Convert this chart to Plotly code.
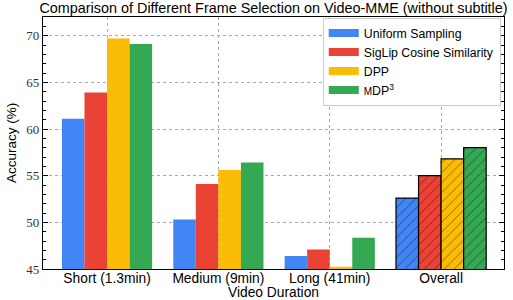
import plotly.graph_objects as go

categories = ["Short (1.3min)", "Medium (9min)", "Long (41min)", "Overall"]
series_names = ["Uniform Sampling", "SigLip Cosine Similarity", "DPP",
                "<span style='font-size:10px'>M</span>DP<sup>3</sup>"]
uniform = [61.1, 50.3, 46.4, 52.6]
siglip = [63.9, 54.1, 47.1, 55.0]
dpp = [69.7, 55.6, 45.25, 56.8]
mdp3 = [69.1, 56.4, 48.35, 58.0]
colors = ["#4285F4", "#EA4335", "#FBBC05", "#34A853"]
y_ticks = [45, 50, 55, 60, 65, 70]

fig = go.Figure()
all_vals = [uniform, siglip, dpp, mdp3]
for name, vals, col in zip(series_names, all_vals, colors):
    shapes = ["/" if c == "Overall" else "" for c in categories]
    lcols = ["black" if c == "Overall" else "rgba(0,0,0,0)" for c in categories]
    lw = [1.2 if c == "Overall" else 0 for c in categories]
    fig.add_trace(go.Bar(
        x=categories, y=vals, name=name, showlegend=False,
        marker=dict(color=col, line=dict(color=lcols, width=lw),
                    pattern=dict(shape=shapes, fgcolor="black", bgcolor=col,
                                 fillmode="overlay", size=7, solidity=0.12)),
    ))
    fig.add_trace(go.Scatter(
        x=[None], y=[None], mode="lines", name=name,
        line=dict(color=col, width=8), showlegend=True,
    ))

fig.update_layout(
    width=513, height=300,
    margin=dict(l=43, r=9, t=17, b=31, autoexpand=False),
    plot_bgcolor="white", paper_bgcolor="white",
    barmode="group", bargap=0.19, bargroupgap=0,
    title=dict(text="Comparison of Different Frame Selection on Video-MME (without subtitle)",
               x=0.5, xref="paper", xanchor="center", y=0.99, yanchor="top", yref="container",
               automargin=False,
               font=dict(family="Liberation Sans, Arial, sans-serif", size=14.4, color="black")),
    font=dict(family="Liberation Sans, Arial, sans-serif", size=13, color="black"),
    legend=dict(x=0.993, xanchor="right", y=0.998, yanchor="top",
                bgcolor="white", bordercolor="#cccccc", borderwidth=1,
                font=dict(size=12.3), itemwidth=30, tracegroupgap=0),
    annotations=[dict(text="Video Duration", xref="paper", yref="paper",
                      x=0.5, y=-0.093, xanchor="center", yanchor="middle",
                      showarrow=False, font=dict(size=13.8))],
)
fig.update_xaxes(
    range=[-0.575, 3.565],
    showline=True, linecolor="black", linewidth=1.2, mirror=True,
    showgrid=True, gridcolor="#aaaaaa", griddash="dot", gridwidth=1,
    ticks="", tickfont=dict(size=13.8), ticklabelstandoff=-4,
)
fig.update_yaxes(
    range=[45, 72], tickvals=y_ticks,
    showline=True, linecolor="black", linewidth=1.2, mirror="allticks",
    showgrid=True, gridcolor="#aaaaaa", griddash="dot", gridwidth=1,
    ticks="inside", ticklen=5, tickcolor="black",
    tickfont=dict(family="Liberation Serif, Times New Roman, serif", size=13, color="#333333"),
    minor=dict(dtick=1, ticks="inside", ticklen=3, tickcolor="black", showgrid=False),
    title=dict(text="Accuracy (%)", standoff=6, font=dict(size=13.5)),
    zeroline=False,
)
fig.write_html("out.html", config={"displayModeBar": False},
               post_script="document.body.style.margin='0';")
